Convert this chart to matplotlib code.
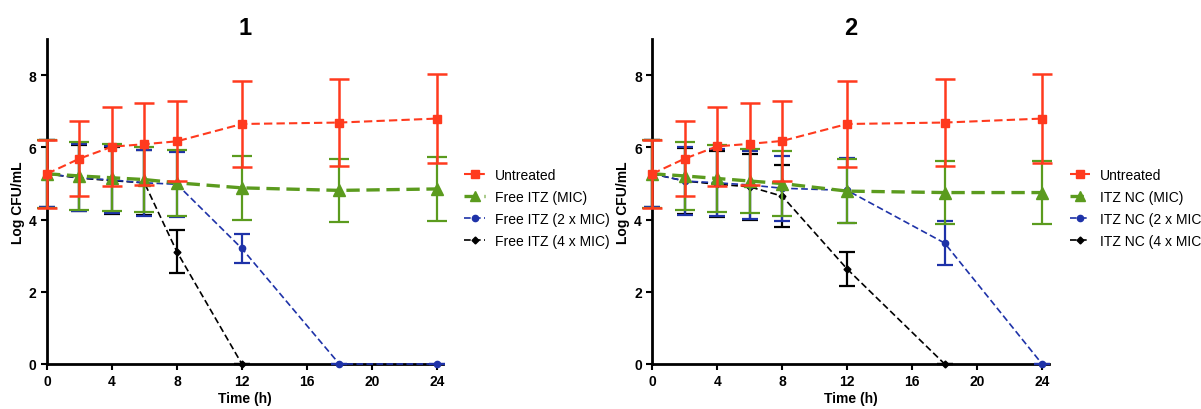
import matplotlib
matplotlib.use("Agg")
import matplotlib.pyplot as plt
from matplotlib.lines import Line2D
import numpy as np

plt.rcParams['font.family'] = ['Liberation Sans', 'DejaVu Sans']

time = [0, 2, 4, 6, 8, 12, 18, 24]

# Panel 1
p1_untreated = [5.27, 5.69, 6.02, 6.09, 6.17, 6.65, 6.69, 6.80]
p1_untreated_err = [0.95, 1.03, 1.10, 1.13, 1.11, 1.20, 1.20, 1.23]
p1_mic = [5.27, 5.21, 5.16, 5.11, 5.02, 4.88, 4.81, 4.85]
p1_mic_err = [0.95, 0.95, 0.93, 0.90, 0.92, 0.89, 0.88, 0.88]
p1_2mic = [5.27, 5.16, 5.10, 5.02, 4.98, 3.20, 0.0, 0.0]
p1_2mic_err = [0.93, 0.93, 0.93, 0.92, 0.90, 0.39, 0.0, 0.0]
p1_4mic = [5.27, 5.15, 5.08, 5.02, 3.11, 0.0]
p1_4mic_err = [0.93, 0.92, 0.92, 0.90, 0.60, 0.0]
p1_labels = ["Untreated", "Free ITZ (MIC)", "Free ITZ (2 x MIC)", "Free ITZ (4 x MIC)"]

# Panel 2
p2_untreated = [5.27, 5.69, 6.03, 6.10, 6.18, 6.65, 6.69, 6.80]
p2_untreated_err = [0.95, 1.03, 1.10, 1.13, 1.11, 1.20, 1.20, 1.23]
p2_mic = [5.27, 5.21, 5.14, 5.07, 5.00, 4.79, 4.75, 4.75]
p2_mic_err = [0.95, 0.93, 0.92, 0.90, 0.91, 0.89, 0.87, 0.87]
p2_2mic = [5.27, 5.07, 5.02, 4.96, 4.87, 4.81, 3.35, 0.0]
p2_2mic_err = [0.93, 0.93, 0.93, 0.93, 0.90, 0.90, 0.60, 0.0]
p2_4mic = [5.27, 5.07, 4.98, 4.91, 4.65, 2.63, 0.0]
p2_4mic_err = [0.93, 0.92, 0.91, 0.91, 0.85, 0.48, 0.0]
p2_labels = ["Untreated", "ITZ NC (MIC)", "ITZ NC (2 x MIC)", "ITZ NC (4 x MIC)"]

titles = ["1", "2"]
xticks = [0, 4, 8, 12, 16, 20, 24]
yticks = [0, 2, 4, 6, 8]

RED = "#FF3A1E"
GREEN = "#5B9B1E"
BLUE = "#1E32A8"
BLACK = "#000000"

fig = plt.figure(figsize=(12.01, 4.10), dpi=100)
ax1 = fig.add_axes([0.0391, 0.1098, 0.330, 0.7922])
ax2 = fig.add_axes([0.5431, 0.1098, 0.330, 0.7922])

panels = [
    (ax1, p1_untreated, p1_untreated_err, p1_mic, p1_mic_err, p1_2mic, p1_2mic_err, p1_4mic, p1_4mic_err, p1_labels, 0.382),
    (ax2, p2_untreated, p2_untreated_err, p2_mic, p2_mic_err, p2_2mic, p2_2mic_err, p2_4mic, p2_4mic_err, p2_labels, 0.886),
]

styles = [
    dict(color=RED, ls=(0, (4, 2)), lw=1.5, marker='s', ms=6),
    dict(color=GREEN, ls=(0, (4, 2)), lw=2.4, marker='^', ms=8),
    dict(color=BLUE, ls=(0, (4, 2)), lw=1.2, marker='o', ms=4.5),
    dict(color=BLACK, ls=(0, (4, 2)), lw=1.2, marker='D', ms=3.5),
]

for i, (ax, u, ue, m, me, m2, m2e, m4, m4e, labels, lx) in enumerate(panels):
    t4 = time[:len(m4)]
    ax.errorbar(t4, m4, yerr=m4e, capsize=6, elinewidth=1.6, capthick=1.6,
                clip_on=False, zorder=3, **styles[3])
    ax.errorbar(time, m2, yerr=m2e, capsize=6, elinewidth=1.6, capthick=1.6,
                clip_on=False, zorder=4, **styles[2])
    ax.errorbar(time, m, yerr=me, capsize=7, elinewidth=1.6, capthick=1.6,
                clip_on=False, zorder=5, **styles[1])
    ax.errorbar(time, u, yerr=ue, capsize=7, elinewidth=1.8, capthick=1.8,
                clip_on=False, zorder=6, **styles[0])

    ax.set_xlim(0, 24.4)
    ax.set_ylim(0, 9)
    ax.set_xticks(xticks)
    ax.set_yticks(yticks)
    for s in ['top', 'right']:
        ax.spines[s].set_visible(False)
    for s in ['left', 'bottom']:
        ax.spines[s].set_linewidth(2)
    ax.tick_params(direction='out', length=4, width=1.5, labelsize=10)
    for lab in ax.get_xticklabels() + ax.get_yticklabels():
        lab.set_fontweight('bold')
    ax.set_xlabel("Time (h)", fontsize=10, fontweight='bold', labelpad=2)
    ax.set_ylabel("Log CFU/mL", fontsize=10, fontweight='bold', labelpad=3)
    ax.set_title(titles[i], fontsize=17, fontweight='bold', pad=4)

    handles = [Line2D([], [], **st) for st in styles]
    handles[1].set_markersize(7)
    fig.legend(handles, labels, loc='center left',
               bbox_to_anchor=(lx, 0.49), frameon=False, fontsize=10,
               handlelength=1.5, handletextpad=0.7, labelspacing=0.58,
               borderaxespad=0)

fig.savefig("out.png", dpi=100)
